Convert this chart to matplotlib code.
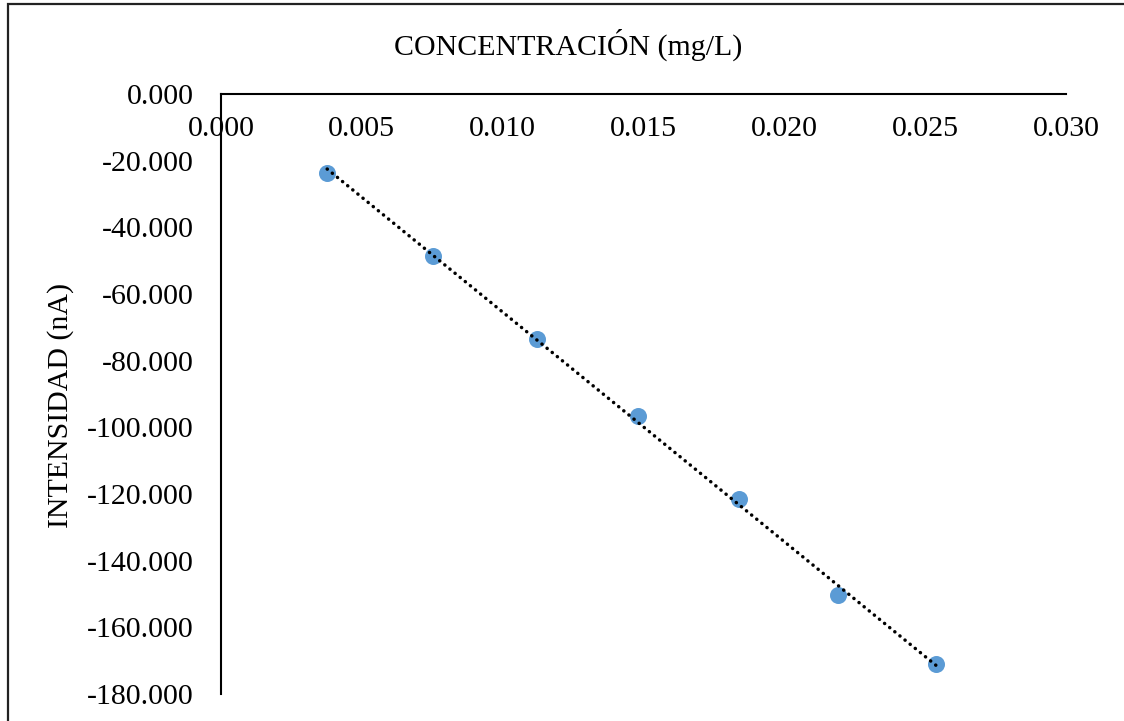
import numpy as np
import matplotlib
matplotlib.use("Agg")
import matplotlib.pyplot as plt
from matplotlib.patches import Rectangle

# Data
concentracion = [0.00377, 0.00753, 0.01122, 0.01481, 0.01839, 0.02190, 0.02538]
intensidad = [-23.6, -48.6, -73.5, -96.6, -121.5, -150.4, -171.1]
x_ticks = [0.000, 0.005, 0.010, 0.015, 0.020, 0.025, 0.030]
y_ticks = [0, -20, -40, -60, -80, -100, -120, -140, -160, -180]
x_label = "CONCENTRACIÓN (mg/L)"
y_label = "INTENSIDAD (nA)"

plt.rcParams['font.family'] = ['Liberation Serif', 'DejaVu Serif']
FS = 21.5

W, H = 1124, 721
fig = plt.figure(figsize=(W / 100, H / 100), dpi=100)

# chart border (Excel chart area), cut off at right/bottom
fig.patches.append(Rectangle((8 / W, -0.05), 1.2, 1 - 4 / H + 0.05,
                             transform=fig.transFigure, fill=False,
                             edgecolor='#222222', linewidth=1.6, zorder=0))

left, right, top, bottom = 221, 1066, 94, 694
ax = fig.add_axes([left / W, 1 - bottom / H, (right - left) / W, (bottom - top) / H])

ax.set_xlim(0, 0.030)
ax.set_ylim(-180, 0)

ax.scatter(concentracion, intensidad, s=150, color='#5B9BD5', zorder=3, linewidths=0)

# linear trendline
m, b = np.polyfit(concentracion, intensidad, 1)
xs = np.array([min(concentracion), max(concentracion)])
ax.plot(xs, m * xs + b, color='black', linewidth=2.5,
        linestyle=(0, (0.05, 1.85)), dash_capstyle='round', zorder=4)

ax.spines['right'].set_visible(False)
ax.spines['bottom'].set_visible(False)
for s in ('left', 'top'):
    ax.spines[s].set_linewidth(1.5)
    ax.spines[s].set_color('black')

ax.set_xticks(x_ticks)
ax.set_xticklabels([f"{v:.3f}" for v in x_ticks])
ax.set_yticks(y_ticks)
ax.set_yticklabels([f"{v:.3f}" for v in y_ticks])
ax.tick_params(axis='x', bottom=False, labelbottom=False, top=False, labeltop=True,
               length=0, pad=-16, labelsize=FS)
for t in ax.xaxis.get_major_ticks():
    t.label2.set_verticalalignment('top')
ax.tick_params(axis='y', length=0, pad=19.5, labelsize=FS)

fig.text(568 / W, 1 - 45 / H, x_label, ha='center', va='center', fontsize=FS)
fig.text(61 / W, 1 - 405 / H, y_label, ha='center', va='center', rotation=90, fontsize=FS)

fig.savefig("out.png", dpi=100)
